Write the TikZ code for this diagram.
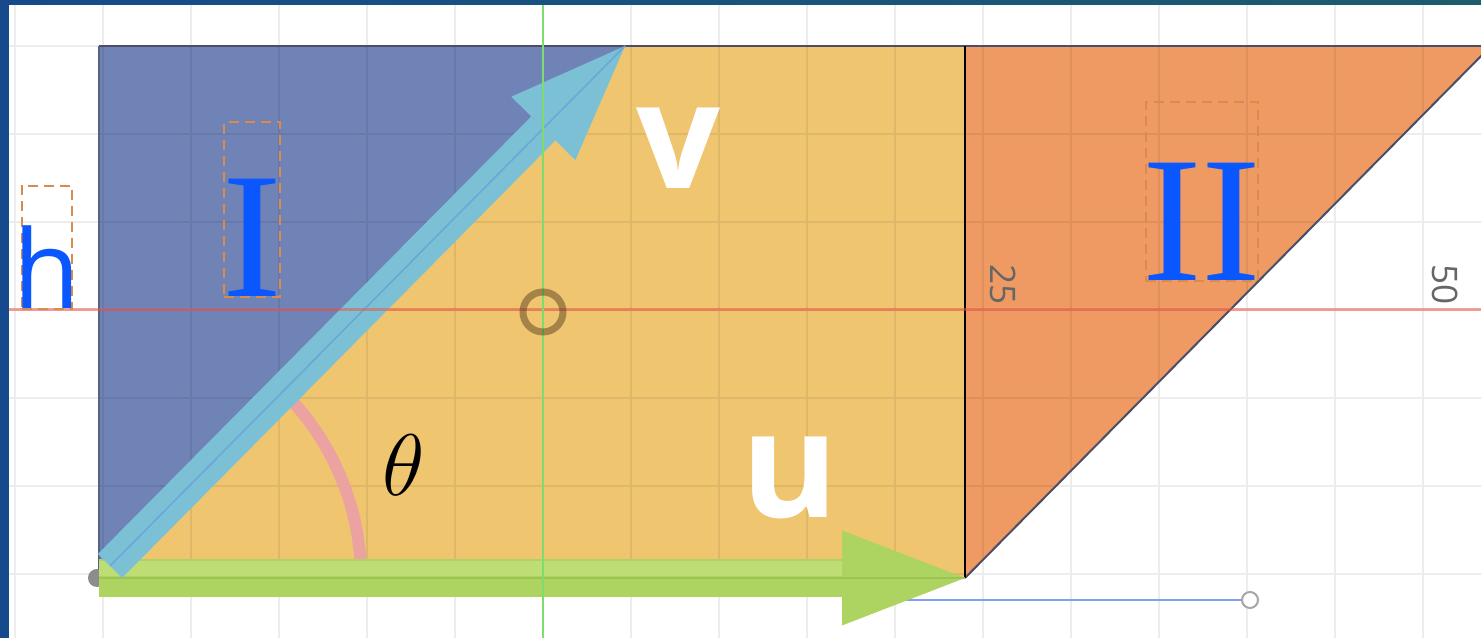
\documentclass[tikz,border=0pt]{standalone}
\usepackage{fontspec}
\usepackage{tikz}
\usetikzlibrary{arrows.meta,calc}
\usepackage{xcolor}
\newfontfamily\labelsans{Open Sans}
\newfontfamily\labelserif{Liberation Serif}
\definecolor{frameblue}{HTML}{174A8C}
\definecolor{frameteal}{HTML}{1C5C6C}
\definecolor{regionblue}{HTML}{7083B6}
\definecolor{fillyellow}{HTML}{EFC570}
\definecolor{fillorange}{HTML}{EF9A62}
\definecolor{edgegray}{HTML}{4A4E66}
\definecolor{ugreen}{HTML}{ADD360}
\definecolor{ushine}{HTML}{BEDD74}
\definecolor{ucore}{HTML}{9CC455}
\definecolor{vcyan}{HTML}{7CC0D6}
\definecolor{vcore}{HTML}{6AA6DA}
\definecolor{thetapink}{HTML}{EDA2A2}
\definecolor{axisred}{HTML}{E8584A}
\definecolor{axisgreen}{HTML}{7EDB6E}
\definecolor{labelblue}{HTML}{0A56FF}
\definecolor{boxorange}{HTML}{D98A4C}
\definecolor{tickgray}{HTML}{666666}
\definecolor{pinblue}{HTML}{7FA0F0}

\begin{document}
\begin{tikzpicture}[x=0.1mm, y=0.1mm,
    gridline/.style={draw=black, opacity=0.07, line width=0.25mm},
    edgeline/.style={draw=edgegray, line width=0.2mm},
    uarrow/.style={draw=ugreen, line width=3.8mm,
      -{Triangle[length=12.3mm, width=9.5mm, line width=0pt]}},
    varrow/.style={draw=vcyan, line width=3.4mm,
      -{Triangle[length=11.6mm, width=9mm, line width=0pt]}},
    core/.style={line width=0.15mm},
    thetaarc/.style={draw=thetapink, line width=1.2mm},
    axisx/.style={draw=axisred, opacity=0.55, line width=0.3mm},
    axisy/.style={draw=axisgreen, line width=0.2mm},
    vecname/.style={text=white, inner sep=0pt,
      font=\labelsans\bfseries\fontsize{42}{42}\selectfont},
    regionname/.style={text=labelblue, draw=boxorange, line width=0.2mm,
      dash pattern=on 1mm off 0.6mm, inner ysep=0pt, text depth=0pt, anchor=south},
    ticknum/.style={text=tickgray, inner sep=0pt, rotate=-90,
      font=\labelsans\fontsize{10}{10}\selectfont}]
    \useasboundingbox (0,0) rectangle (1481,638);
    \clip (0,0) rectangle (1481,638);
    \fill[white] (0,0) rectangle (1481,638);
    \coordinate (O) at (99,60);
    \coordinate (U) at (965,60);
    \coordinate (V) at (625,592);
    \coordinate (W) at (1491,592);
    \coordinate (TL) at (99,592);
    \coordinate (Utop) at (965,592);
    \coordinate (vstart) at (110,72);
    \coordinate (C) at (543,328);
    \coordinate (pinstart) at (900,38);
    \coordinate (pin) at (1250,38);
    \fill[regionblue] (TL) -- (V) -- (O) -- cycle;
    \fill[fillyellow] (O) -- (U) -- (Utop) -- (V) -- cycle;
    \fill[fillorange] (U) -- (Utop) -- (W) -- cycle;
    \draw[gridline, shift={(C)}] (-543,-328) grid[step=88] (938,310);
    \draw[edgeline] (TL) -- (W);
    \draw[edgeline] (U) -- (W);
    \draw[black, line width=0.25mm] (U) -- (Utop);
    \draw[regionblue!75!black, line width=0.15mm] (TL) -- (O);
    \draw[pinblue, line width=0.2mm] (pinstart) -- (pin);
    \node[circle, draw=black!35, fill=white, line width=0.2mm, inner sep=0pt,
      minimum size=1.6mm] (pinend) at (pin) {};
    \node[circle, fill=black!45, inner sep=0pt, minimum size=1.8mm] (odot) at (97,60) {};
    \draw[thetaarc] ($(O)+(2:262)$) arc[start angle=2, end angle=46, radius=262];
    \draw[uarrow] (O) -- (U);
    \draw[ushine, line width=1.5mm, shorten >=12.3mm,
      transform canvas={yshift=0.95mm}] (O) -- (U);
    \draw[core, draw=ucore] (O) -- (U);
    \draw[varrow] (vstart) -- (V);
    \draw[core, draw=vcore] (vstart) -- (V);
    \draw[axisx] (9,328) -- (1481,328);
    \draw[axisy] (543,0) -- (543,633);
    \draw[black!60!brown, opacity=0.45, line width=0.7mm] (543,326) circle (20);
    \node[regionname, font=\labelsans\fontsize{31}{31}\selectfont,
      inner xsep=-0.8mm, text height=12.3mm] (hlab) at (47,328) {h};
    \node[regionname, font=\labelserif\fontsize{51}{51}\selectfont,
      inner xsep=-0.2mm, text height=17.5mm] (regI) at (252,340) {I};
    \node[regionname, font=\labelserif\fontsize{51}{51}\selectfont,
      inner xsep=-0.4mm, text height=17.9mm] (regII) at (1202,356) {II};
    \node[vecname] (vlab) at (678,490) {v};
    \node[vecname] (ulab) at (790,160) {u};
    \node[inner sep=0pt, font=\fontsize{32}{32}\selectfont] (thlab) at (404,173) {$\theta$};
    \node[ticknum] (tick25) at (1003,353) {25};
    \node[ticknum] (tick50) at (1445,353) {50};
    \fill[frameblue] (0,0) rectangle (9,638);
    \shade[left color=frameblue, right color=frameteal] (0,633) rectangle (1481,638);
  \end{tikzpicture}
\end{document}
